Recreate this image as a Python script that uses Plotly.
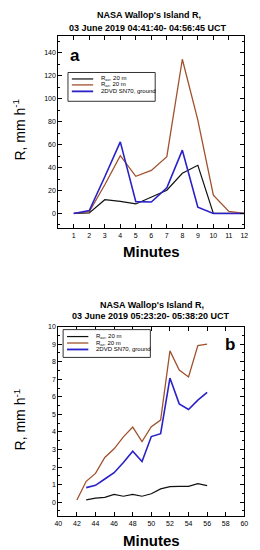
import plotly.graph_objects as go

# Panel a data (minutes 1..12)
minutes_a = [1, 2, 3, 4, 5, 6, 7, 8, 9, 10, 11, 12]
r_av_a = [0, 0.5, 12, 10.6, 8.3, 14, 20.3, 35, 42, 0, 0, 0]
r_ar_a = [0, 1.5, 25, 50.4, 32.4, 37.5, 49.5, 134.5, 81.5, 16, 1.7, 0]
dvd_a = [0, 2.5, 32, 62.4, 10.3, 10, 22.3, 55.2, 5.4, 0, 0, 0]

# Panel b data (minutes 42..56)
minutes_b_ar = [42, 43, 44, 45, 46, 47, 48, 49, 50, 51, 52, 53, 54, 55, 56]
r_ar_b = [0.13, 1.19, 1.64, 2.55, 3.04, 3.72, 4.28, 3.45, 4.3, 4.68, 8.62, 7.53, 7.13, 8.92, 9.0]
minutes_b = [43, 44, 45, 46, 47, 48, 49, 50, 51, 52, 53, 54, 55, 56]
r_av_b = [0.13, 0.23, 0.28, 0.44, 0.34, 0.44, 0.34, 0.48, 0.76, 0.89, 0.9, 0.9, 1.06, 0.94]
dvd_b = [0.83, 0.96, 1.32, 1.68, 2.26, 2.9, 2.32, 3.74, 3.9, 7.07, 5.6, 5.28, 5.81, 6.26]

names = ["R<sub>av</sub>, 20 m", "R<sub>ar</sub>, 20 m", "2DVD SN70, ground"]
colors = ["#111111", "#a0522d", "#2a22c8"]
widths = [1.2, 1.3, 1.6]

FONT = "Liberation Sans, Arial, sans-serif"
W, H = 260, 550

fig = go.Figure()
for nm, ys, c, w in zip(names, [r_av_a, r_ar_a, dvd_a], colors, widths):
    fig.add_trace(go.Scatter(x=minutes_a, y=ys, mode="lines", name=nm,
                             line=dict(color=c, width=w), xaxis="x", yaxis="y",
                             showlegend=False))
for nm, xs, ys, c, w in zip(names, [minutes_b, minutes_b_ar, minutes_b],
                            [r_av_b, r_ar_b, dvd_b], colors, widths):
    fig.add_trace(go.Scatter(x=xs, y=ys, mode="lines", name=nm,
                             line=dict(color=c, width=w), xaxis="x2", yaxis="y2",
                             showlegend=False))

xd = [56 / W, 248 / W]
ax_common = dict(showline=True, linecolor="black", linewidth=1, mirror="ticks",
                 ticks="inside", ticklen=4, tickcolor="black", showgrid=False,
                 zeroline=False, tickfont=dict(family=FONT, size=7, color="black"))

fig.update_layout(
    width=W, height=H, margin=dict(l=0, r=0, t=0, b=0),
    paper_bgcolor="white", plot_bgcolor="white",
    xaxis=dict(domain=xd, range=[0, 12], tickvals=list(range(1, 13)),
               anchor="y", **ax_common),
    yaxis=dict(domain=[1 - 226 / H, 1 - 32 / H], range=[-13, 155],
               tickvals=list(range(0, 141, 20)), anchor="x",
               minor=dict(dtick=10, ticks="inside", ticklen=2, tickcolor="black"),
               **ax_common),
    xaxis2=dict(domain=xd, range=[40, 60], dtick=2, anchor="y2", **ax_common),
    yaxis2=dict(domain=[1 - 516 / H, 1 - 325 / H], range=[-0.8, 10], dtick=1,
                anchor="x2",
                minor=dict(dtick=0.5, ticks="inside", ticklen=2, tickcolor="black"),
                **ax_common),
    showlegend=False,
)

px = lambda x: x / W
py = lambda y: 1 - y / H

ann = []
shapes = []
def t(x, y, text, size, bold=True, angle=0, xanchor="center"):
    ann.append(dict(x=px(x), y=py(y), xref="paper", yref="paper",
                    text=f"<b>{text}</b>" if bold else text, showarrow=False,
                    textangle=angle, xanchor=xanchor, yanchor="middle",
                    font=dict(family=FONT, size=size, color="black")))

t(150, 11, "NASA Wallop's Island R,", 9)
t(149, 24, "03 June 2019 04:41:40- 04:56:45 UCT", 9)
t(153, 303, "NASA Wallop's Island R,", 9)
t(152, 314, "03 June 2019 05:23:20- 05:38:20 UCT", 9)
t(152, 249, "Minutes", 15)
t(152, 540, "Minutes", 15)
t(16, 127, "R, mm h<sup>-1</sup>", 14, bold=False, angle=-90)
t(16, 419, "R, mm h<sup>-1</sup>", 14, bold=False, angle=-90)
t(73, 52, "a", 17)
t(233, 343, "b", 17)

# legends (box + line samples + labels)
def legend(x0, y0, x1, y1, rows):
    shapes.append(dict(type="rect", xref="paper", yref="paper",
                       x0=px(x0), x1=px(x1), y0=py(y1), y1=py(y0),
                       line=dict(color="#333", width=1), fillcolor="white",
                       layer="above"))
    for (yy, nm, c, w) in rows:
        shapes.append(dict(type="line", xref="paper", yref="paper",
                           x0=px(x0 + 4), x1=px(x0 + 26), y0=py(yy), y1=py(yy),
                           line=dict(color=c, width=w), layer="above"))
        t(x0 + 32, yy, nm, 6, bold=False, xanchor="left")

legend(66, 69, 156, 98, [(75.5, names[0], colors[0], 1.2),
                         (81.5, names[1], colors[1], 1.3),
                         (88.0, names[2], colors[2], 1.8)])
legend(61, 328, 151, 356, [(335.0, names[0], colors[0], 1.2),
                           (341.5, names[1], colors[1], 1.3),
                           (348.0, names[2], colors[2], 1.8)])

fig.update_layout(annotations=ann, shapes=shapes)

fig.write_html("out.html", config={"displayModeBar": False},
               post_script="document.body.style.margin='0';")
